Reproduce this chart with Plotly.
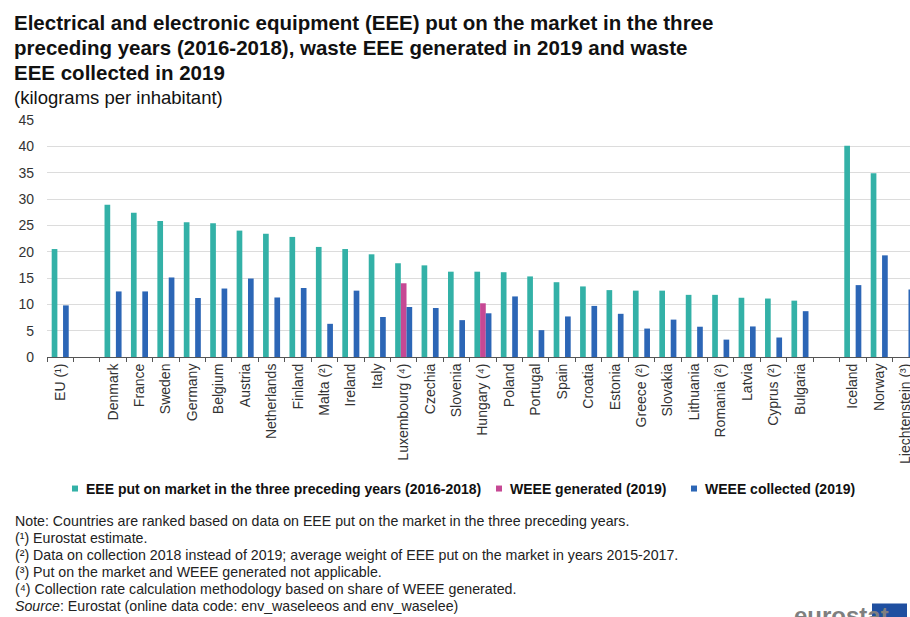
import plotly.graph_objects as go

# Country order (blank entries separate EU / member states / EFTA groups)
countries = [
    "EU (¹)", " ", "Denmark", "France", "Sweden", "Germany", "Belgium", "Austria",
    "Netherlands", "Finland", "Malta (²)", "Ireland", "Italy", "Luxembourg (⁴)",
    "Czechia", "Slovenia", "Hungary (⁴)", "Poland", "Portugal", "Spain", "Croatia",
    "Estonia", "Greece (²)", "Slovakia", "Lithuania", "Romania (²)", "Latvia",
    "Cyprus (²)", "Bulgaria", "  ", "Iceland", "Norway", "Liechtenstein (³)",
]

# kg per inhabitant
eee_put_on_market = [
    20.5, None, 28.9, 27.4, 25.8, 25.6, 25.4, 24.0, 23.4, 22.8, 20.9, 20.5, 19.5,
    17.8, 17.4, 16.2, 16.2, 16.1, 15.3, 14.2, 13.4, 12.7, 12.6, 12.6, 11.8, 11.8,
    11.25, 11.1, 10.7, None, 40.1, 34.9, None,
]
weee_generated = [
    None, None, None, None, None, None, None, None, None, None, None, None, None,
    14.0, None, None, 10.2, None, None, None, None, None, None, None, None, None,
    None, None, None, None, None, None, None,
]
weee_collected = [
    9.8, None, 12.45, 12.45, 15.1, 11.2, 13.0, 14.9, 11.3, 13.1, 6.3, 12.6, 7.6,
    9.5, 9.3, 7.0, 8.3, 11.5, 5.1, 7.7, 9.7, 8.2, 5.4, 7.1, 5.75, 3.3, 5.8, 3.7,
    8.7, None, 13.65, 19.3, 12.8,
]

series_names = [
    "EEE put on market in the three preceding years (2016-2018)",
    "WEEE generated (2019)",
    "WEEE collected (2019)",
]
series_colors = ["#33b1a7", "#c64894", "#2c66b6"]

title_lines = [
    "Electrical and electronic equipment (EEE) put on the market in the three",
    "preceding years (2016-2018), waste EEE generated in 2019 and waste",
    "EEE collected in 2019",
]
subtitle = "(kilograms per inhabitant)"
notes = [
    "Note: Countries are ranked based on data on EEE put on the market in the three preceding years.",
    "(¹) Eurostat estimate.",
    "(²) Data on collection 2018 instead of 2019; average weight of EEE put on the market in years 2015-2017.",
    "(³) Put on the market and WEEE generated not applicable.",
    "(⁴) Collection rate calculation methodology based on share of WEEE generated.",
    "<i>Source</i>: Eurostat (online data code: env_waseleeos and env_waselee)",
]

W, H = 910, 617
PLOT_L, PLOT_R, PLOT_T, PLOT_B = 47, 910, 120, 357.3
FONT = "Liberation Sans, Arial, sans-serif"


def fx(px):
    return (px - PLOT_L) / (PLOT_R - PLOT_L)


def fy(py):
    return (PLOT_B - py) / (PLOT_B - PLOT_T)


fig = go.Figure()
for name, vals, col in zip(series_names, [eee_put_on_market, weee_generated, weee_collected], series_colors):
    fig.add_trace(go.Bar(x=countries, y=vals, name=name, marker=dict(color=col, line=dict(width=0)),
                         showlegend=False))

slot = 26.42
fig.update_layout(
    template="none",
    width=W, height=H,
    margin=dict(l=PLOT_L, r=W - PLOT_R, t=PLOT_T, b=H - PLOT_B, pad=0),
    paper_bgcolor="white", plot_bgcolor="white",
    barmode="group", bargap=0.355, bargroupgap=0,
    font=dict(family=FONT, color="#333333", size=14),
    xaxis=dict(
        type="category", range=[-0.5, -0.5 + (PLOT_R - PLOT_L) / slot],
        showline=True, linecolor="#555555", linewidth=1,
        ticks="outside", ticklen=4, tickcolor="#555555", tickson="boundaries",
        tickangle=-90, tickfont=dict(size=14, color="#333333"),
        showgrid=False, automargin=False, fixedrange=True,
    ),
    yaxis=dict(
        range=[0, 45], dtick=5, tick0=0, showline=False, zeroline=False,
        showgrid=True, gridcolor="#dcdcdc", gridwidth=1,
        ticks="", ticklabelstandoff=12, tickfont=dict(size=14, color="#333333"),
        automargin=False, fixedrange=True,
    ),
)

ann = []
# Title block
title_y = [22, 47, 72]
for line, ty in zip(title_lines, title_y):
    ann.append(dict(text=f"<b>{line}</b>", x=fx(12), y=fy(ty), xref="paper", yref="paper",
                    xanchor="left", yanchor="middle", showarrow=False,
                    font=dict(size=20.5, color="#111111", family=FONT)))
ann.append(dict(text=subtitle, x=fx(12), y=fy(97), xref="paper", yref="paper",
                xanchor="left", yanchor="middle", showarrow=False,
                font=dict(size=18.5, color="#111111", family=FONT)))

# Legend
legend_y = 489
legend_marker_x = [75, 499, 694]
shapes = []
for name, col, mx in zip(series_names, series_colors, legend_marker_x):
    shapes.append(dict(type="rect", xref="paper", yref="paper",
                       x0=fx(mx - 3), x1=fx(mx + 3), y0=fy(legend_y + 3), y1=fy(legend_y - 3),
                       fillcolor=col, line=dict(width=0)))
    ann.append(dict(text=f"<b>{name}</b>", x=fx(mx + 9), y=fy(legend_y), xref="paper", yref="paper",
                    xanchor="left", yanchor="middle", showarrow=False,
                    font=dict(size=14, color="#111111", family=FONT)))

# Footnotes
for i, line in enumerate(notes):
    ann.append(dict(text=line, x=fx(13), y=fy(522 + 17 * i), xref="paper", yref="paper",
                    xanchor="left", yanchor="middle", showarrow=False,
                    font=dict(size=14.2, color="#222222", family=FONT)))

# Eurostat logo
ann.append(dict(text="<b>eurostat</b>", x=fx(792), y=fy(601), xref="paper", yref="paper",
                xanchor="left", yanchor="top", showarrow=False,
                font=dict(size=24, color="#7f7f7f", family=FONT)))
shapes.append(dict(type="rect", xref="paper", yref="paper",
                   x0=fx(872), x1=fx(907), y0=fy(625), y1=fy(604),
                   fillcolor="#1f4fa0", line=dict(width=0)))

fig.update_layout(annotations=ann, shapes=shapes)
fig.write_html("out.html")
